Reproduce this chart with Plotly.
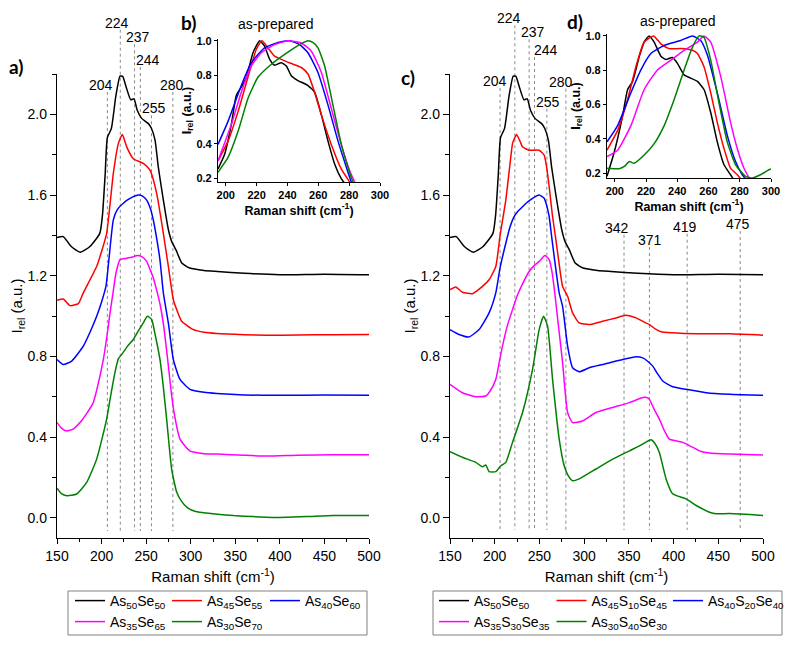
import plotly.graph_objects as go

# ---------------- data ----------------
names_left = ["As<sub>50</sub>Se<sub>50</sub>", "As<sub>45</sub>Se<sub>55</sub>", "As<sub>40</sub>Se<sub>60</sub>",
              "As<sub>35</sub>Se<sub>65</sub>", "As<sub>30</sub>Se<sub>70</sub>"]
names_right = ["As<sub>50</sub>Se<sub>50</sub>", "As<sub>45</sub>S<sub>10</sub>Se<sub>45</sub>",
               "As<sub>40</sub>S<sub>20</sub>Se<sub>40</sub>", "As<sub>35</sub>S<sub>30</sub>Se<sub>35</sub>",
               "As<sub>30</sub>S<sub>40</sub>Se<sub>30</sub>"]
colors = ["#000000", "#ff0000", "#0000ff", "#ff00ff", "#008000"]

# main spectra (offset stacked)
as50_x = [150, 157, 166, 176, 187, 198, 201, 204, 206.5, 211, 216, 220.7, 223.7, 227.4, 232.7, 236.4, 240, 245,
          252.5, 256, 260, 263.6, 269.3, 275, 278.7, 283.5, 290, 299, 315, 330, 360, 400, 450, 500]
as50_y = [1.39, 1.394, 1.345, 1.317, 1.345, 1.41, 1.50, 1.70, 1.885, 1.93, 2.09, 2.19, 2.188, 2.138, 2.072, 2.077,
          2.02, 1.98, 1.954, 1.93, 1.872, 1.74, 1.575, 1.427, 1.369, 1.328, 1.263, 1.238, 1.226, 1.221, 1.212,
          1.205, 1.208, 1.205]

as45_x = [150, 157, 164.6, 174, 179.5, 187, 194.5, 200, 205.7, 213.2, 218.8, 223.3, 228.2, 235.6, 246.8, 254.3,
          261.8, 269.3, 274.9, 280.5, 284.3, 289.9, 303, 315, 329, 360, 385, 420, 460, 500]
as45_y = [1.078, 1.085, 1.052, 1.062, 1.115, 1.18, 1.246, 1.32, 1.41, 1.707, 1.855, 1.90, 1.839, 1.78, 1.757, 1.723,
          1.608, 1.41, 1.246, 1.081, 1.032, 0.974, 0.933, 0.92, 0.914, 0.908, 0.905, 0.906, 0.908, 0.909]

as40_x = [150, 157, 166.5, 179.5, 188, 194.5, 200, 205, 208, 213.2, 218, 224.4, 230, 235.6, 241.2, 246, 250.6, 255,
          258, 262, 265.5, 269.3, 274.9, 280.5, 288, 299.2, 315, 329.2, 360, 400, 450, 500]
as40_y = [0.785, 0.76, 0.777, 0.851, 0.93, 0.999, 1.07, 1.15, 1.27, 1.477, 1.53, 1.559, 1.578, 1.592, 1.60, 1.595,
          1.575, 1.53, 1.477, 1.38, 1.279, 1.115, 0.966, 0.785, 0.686, 0.637, 0.622, 0.616, 0.609, 0.607, 0.609, 0.607]

as35_x = [150, 155, 160.9, 168, 175.8, 183, 190.7, 196, 202, 206, 209.5, 213, 216, 220.7, 228.2, 234, 240, 245,
          250.6, 254, 258, 262, 266, 270, 274, 278, 281, 288, 299, 315, 330, 360, 385, 420, 460, 500]
as35_y = [0.472, 0.445, 0.431, 0.44, 0.472, 0.515, 0.571, 0.66, 0.785, 0.90, 1.016, 1.12, 1.21, 1.28, 1.287, 1.292,
          1.30, 1.295, 1.271, 1.235, 1.19, 1.125, 1.05, 0.94, 0.79, 0.63, 0.53, 0.39, 0.332, 0.318, 0.316, 0.31,
          0.306, 0.31, 0.313, 0.313]

as30_x = [150, 155, 160.9, 172, 183.3, 194.5, 205.7, 210, 215, 219, 222.6, 229, 235.6, 241, 246.8, 251.3, 256.2,
          260, 265.5, 269, 273, 278.6, 284.3, 290, 295.5, 303, 310, 330, 348, 370, 385, 400, 430, 460, 500]
as30_y = [0.147, 0.12, 0.11, 0.118, 0.176, 0.291, 0.489, 0.60, 0.72, 0.79, 0.81, 0.85, 0.884, 0.925, 0.966, 0.999,
          0.983, 0.91, 0.785, 0.66, 0.489, 0.242, 0.127, 0.08, 0.053, 0.035, 0.028, 0.018, 0.011, 0.006, 0.003,
          0.002, 0.006, 0.011, 0.011]

s10_x = [150, 156.4, 163.9, 175.1, 186.3, 193.7, 201.2, 206, 212.4, 217, 219.9, 222, 224.4, 228, 231.1, 238.5,
         249.7, 255.3, 258, 260.9, 264.5, 268.4, 272, 275.9, 281.5, 287.1, 294.5, 305.7, 320.7, 335.6, 346.8, 358,
         365, 372.9, 380, 386, 399, 425.3, 462.6, 500]
s10_y = [1.131, 1.144, 1.118, 1.111, 1.147, 1.18, 1.246, 1.40, 1.575, 1.75, 1.855, 1.88, 1.90, 1.87, 1.839, 1.822,
         1.822, 1.798, 1.74, 1.641, 1.50, 1.378, 1.26, 1.147, 1.098, 1.016, 0.966, 0.958, 0.974, 0.991, 1.004,
         0.991, 0.975, 0.958, 0.935, 0.922, 0.917, 0.912, 0.912, 0.905]

s20_x = [150, 160.1, 171.3, 182.5, 193.7, 201.2, 206, 212.4, 217, 221.7, 226, 231.1, 236, 242.3, 249.7, 255.3, 258,
         260.9, 263.5, 266.5, 272.1, 275.9, 281.5, 287.1, 294.5, 305.7, 320.7, 343.2, 358, 365.5, 370, 376.7, 382,
         387.9, 399, 414, 436.5, 462.6, 500]
s20_y = [0.933, 0.909, 0.897, 0.933, 1.016, 1.115, 1.24, 1.361, 1.44, 1.493, 1.52, 1.542, 1.563, 1.584, 1.60, 1.584,
         1.55, 1.493, 1.40, 1.295, 1.115, 1.048, 0.851, 0.744, 0.724, 0.744, 0.76, 0.785, 0.798, 0.793, 0.78, 0.752,
         0.715, 0.678, 0.65, 0.637, 0.62, 0.612, 0.607]

s30_x = [150, 163.9, 178.8, 190, 195, 201.2, 205, 208.7, 214, 219.9, 225, 231.1, 238.5, 244, 249.7, 256.1, 261,
         264, 267, 270.3, 275.9, 281.5, 287.1, 298.3, 313.2, 331.9, 350.6, 365.5, 369, 372.9, 378, 384.1, 390,
         395.3, 410.3, 421.6, 430, 440.2, 462.6, 500]
s30_y = [0.662, 0.62, 0.60, 0.604, 0.63, 0.686, 0.77, 0.851, 0.95, 1.032, 1.10, 1.16, 1.221, 1.25, 1.271, 1.30,
         1.279, 1.22, 1.12, 0.99, 0.769, 0.522, 0.472, 0.48, 0.522, 0.547, 0.571, 0.596, 0.598, 0.588, 0.54,
         0.489, 0.43, 0.39, 0.374, 0.349, 0.33, 0.321, 0.316, 0.311]

s40_x = [150, 163.9, 178.8, 186.3, 190, 193.7, 201.2, 206.8, 212.4, 219.9, 231.1, 242.3, 249.7, 254.6, 259.1, 264.7,
         272.1, 277.7, 282, 287.1, 294.5, 313.2, 331.9, 350.6, 365.5, 370, 374.9, 379, 384.1, 391.6, 399, 414,
         425.3, 440.2, 447.7, 462.6, 500]
s40_y = [0.328, 0.30, 0.275, 0.253, 0.262, 0.229, 0.229, 0.258, 0.275, 0.374, 0.522, 0.736, 0.933, 0.999, 0.95,
         0.686, 0.39, 0.258, 0.21, 0.184, 0.193, 0.242, 0.291, 0.332, 0.365, 0.378, 0.387, 0.37, 0.324, 0.193,
         0.119, 0.094, 0.061, 0.028, 0.02, 0.021, 0.012]

# inset b (as-prepared, normalized)
b50_x = [195, 199.3, 203.6, 206.9, 210.1, 213.4, 217.7, 222, 225.2, 228.5, 231.7, 236, 239.3, 242.5, 246.8, 253.3,
         257.6, 262, 266.3, 270.6, 274.9, 277]
b50_y = [0.253, 0.339, 0.51, 0.682, 0.73, 0.787, 0.93, 1.0, 0.968, 0.891, 0.857, 0.872, 0.853, 0.796, 0.768, 0.739,
         0.70, 0.568, 0.415, 0.282, 0.196, 0.17]
b45_x = [195, 201.5, 208, 214.4, 219.8, 223.5, 227.4, 231.7, 236, 242.5, 249, 253.3, 257.6, 262, 268.4, 274.9,
         280.3, 281.5]
b45_y = [0.30, 0.415, 0.587, 0.787, 0.949, 1.0, 0.958, 0.91, 0.891, 0.867, 0.844, 0.806, 0.70, 0.568, 0.396, 0.253,
         0.177, 0.16]
b40_x = [195, 201.5, 210.1, 216.6, 225.2, 233.9, 241.4, 247.9, 253.3, 259.8, 266.3, 272.8, 278.2, 281.4, 282.5]
b40_y = [0.396, 0.53, 0.739, 0.872, 0.958, 0.99, 1.0, 0.977, 0.93, 0.815, 0.625, 0.415, 0.263, 0.177, 0.16]
b35_x = [195, 203.6, 210.1, 216.6, 223.1, 231.7, 240.4, 249, 255.5, 262, 268.4, 274.9, 280.3, 283.6, 284.5]
b35_y = [0.30, 0.51, 0.70, 0.853, 0.93, 0.977, 1.0, 0.987, 0.939, 0.815, 0.606, 0.396, 0.244, 0.177, 0.16]
b30_x = [195, 201.5, 208, 214.4, 220.9, 229.6, 238.2, 246.8, 250.5, 253.3, 256.5, 259.8, 264.1, 269.5, 274.9, 279.2,
         282.5, 283.5]
b30_y = [0.234, 0.32, 0.472, 0.663, 0.787, 0.863, 0.92, 0.971, 0.99, 1.0, 0.99, 0.958, 0.853, 0.625, 0.396, 0.263,
         0.177, 0.16]

# inset d (as-prepared, normalized)
d50_x = [195, 199.7, 205, 208.2, 211.4, 215.6, 218.8, 222, 225.2, 229.5, 232.7, 236.9, 240.1, 244.4, 248.6, 252.9,
         257.1, 261.4, 265.6, 269.9, 274.1, 276]
d50_y = [0.183, 0.326, 0.535, 0.688, 0.735, 0.878, 0.964, 1.0, 0.964, 0.882, 0.863, 0.874, 0.84, 0.773, 0.754,
         0.735, 0.688, 0.554, 0.383, 0.25, 0.192, 0.165]
d10_x = [195, 201.8, 208.2, 213.5, 218.8, 224.8, 229.5, 234.8, 242.2, 249.7, 252.9, 257.1, 261.4, 265.6, 269.9,
         274.1, 278.4, 281]
d10_y = [0.335, 0.45, 0.63, 0.821, 0.964, 1.0, 0.954, 0.926, 0.926, 0.916, 0.897, 0.821, 0.669, 0.497, 0.345, 0.23,
         0.192, 0.165]
d20_x = [195, 201.8, 210.3, 216.7, 223.1, 231.6, 242.2, 249.7, 255, 259.3, 265.6, 272, 277.3, 281.6, 284]
d20_y = [0.383, 0.478, 0.669, 0.802, 0.897, 0.945, 0.973, 1.0, 0.973, 0.888, 0.669, 0.421, 0.269, 0.192, 0.165]
d30_x = [195, 201.8, 210.3, 218.8, 227.3, 235.9, 244.4, 252.9, 257.1, 261.4, 267.8, 274.1, 278.4, 282.7, 286.5]
d30_y = [0.297, 0.335, 0.478, 0.688, 0.802, 0.859, 0.916, 0.964, 1.0, 0.964, 0.764, 0.497, 0.345, 0.23, 0.165]
d40_x = [195, 202.9, 206.1, 209.3, 212.4, 218.8, 225.2, 231.6, 238, 244.4, 249.7, 254, 257.1, 261.4, 266.7, 272,
         277.3, 283.7, 287.9, 293.3, 298.6, 300]
d40_y = [0.23, 0.227, 0.24, 0.269, 0.259, 0.307, 0.373, 0.478, 0.63, 0.802, 0.935, 1.0, 0.992, 0.859, 0.611, 0.383,
         0.25, 0.183, 0.173, 0.192, 0.221, 0.226]

# peak marks
peaks_left_x = [206.5, 221, 237, 243.5, 256, 280]
peaks_left_lbl = ["204", "224", "237", "244", "255", "280"]
peaks_right_x = [206, 222.5, 238.5, 244.5, 258.3, 279.6, 344.6, 373, 415.2, 474.5]
peaks_right_lbl = ["204", "224", "237", "244", "255", "280", "342", "371", "419", "475"]

# ---------------- layout helpers ----------------
W, H = 792, 646
def px(x): return x / W
def py(y): return 1 - y / H

FONT = "Liberation Sans, Arial, sans-serif"
fig = go.Figure()

left_sets = [(as50_x, as50_y), (as45_x, as45_y), (as40_x, as40_y), (as35_x, as35_y), (as30_x, as30_y)]
right_sets = [(as50_x, as50_y), (s10_x, s10_y), (s20_x, s20_y), (s30_x, s30_y), (s40_x, s40_y)]
b_sets = [(b50_x, b50_y), (b45_x, b45_y), (b40_x, b40_y), (b35_x, b35_y), (b30_x, b30_y)]
d_sets = [(d50_x, d50_y), (d10_x, d10_y), (d20_x, d20_y), (d30_x, d30_y), (d40_x, d40_y)]

# legend placement (each entry its own legend): line-start px and row px
left_cols = [75, 172, 270]
right_cols = [439, 556.5, 673]
rows = [601, 622]

legend_defs = {}
n = 0
for panel, (sets, names, cols, xa, ya) in enumerate([(left_sets, names_left, left_cols, "x", "y"),
                                                      (right_sets, names_right, right_cols, "x2", "y2")]):
    for i, ((xs, ys), nm) in enumerate(zip(sets, names)):
        n += 1
        lname = "legend" if n == 1 else f"legend{n}"
        c = cols[i % 3]
        r = rows[i // 3]
        legend_defs[lname] = dict(x=px(c - 5), y=py(r), xanchor="left", yanchor="middle",
                                  bgcolor="rgba(0,0,0,0)", borderwidth=0,
                                  font=dict(family=FONT, size=14, color="#000"))
        fig.add_trace(go.Scatter(x=xs, y=ys, mode="lines", name=nm, xaxis=xa, yaxis=ya,
                                 line=dict(color=colors[i], width=1.5, shape="spline", smoothing=0.5),
                                 legend=lname, showlegend=True))

for sets, xa, ya in [(b_sets, "x3", "y3"), (d_sets, "x4", "y4")]:
    for i, (xs, ys) in enumerate(sets):
        fig.add_trace(go.Scatter(x=xs, y=ys, mode="lines", xaxis=xa, yaxis=ya, showlegend=False,
                                 line=dict(color=colors[i], width=1.5, shape="spline", smoothing=0.5)))

tickfont = dict(family=FONT, size=14, color="#000")
main_x = dict(range=[150, 500], tick0=150, dtick=50, showline=True, linecolor="#000", linewidth=1.3,
              ticks="outside", ticklen=5, tickwidth=1.2, tickcolor="#000", showgrid=False, zeroline=False,
              tickfont=tickfont, minor=dict(dtick=25, ticks="outside", ticklen=3, tickcolor="#000"),
              title=dict(text="Raman shift (cm<sup>-1</sup>)", font=dict(family=FONT, size=15, color="#000"),
                         standoff=8))
main_y = dict(range=[-0.1, 2.2], tick0=0, dtick=0.4, tickformat=".1f", showline=True, linecolor="#000",
              linewidth=1.3, ticks="outside", ticklen=6, tickwidth=1.2, tickcolor="#000", showgrid=False,
              zeroline=False, tickfont=tickfont,
              minor=dict(dtick=0.2, ticks="outside", ticklen=4, tickcolor="#000"),
              title=dict(text="I<sub>rel</sub> (a.u.)", font=dict(family=FONT, size=15, color="#000"), standoff=1),
              domain=[py(538), py(74)])

inset_tick = dict(family=FONT, size=11, color="#000", weight="bold")
inset_title = dict(family=FONT, size=12.5, color="#000", weight="bold")
inset_x = dict(range=[195, 300], tick0=200, dtick=20, showline=True, linecolor="#000", linewidth=1.2,
               ticks="outside", ticklen=3, tickcolor="#000", showgrid=False, zeroline=False, tickfont=inset_tick,
               title=dict(text="Raman shift (cm<sup>-1</sup>)", font=inset_title, standoff=3))
inset_y = dict(tick0=0.2, dtick=0.2, tickformat=".1f", showline=True, linecolor="#000", linewidth=1.2,
               ticks="outside", ticklen=3, tickcolor="#000", showgrid=False, zeroline=False, tickfont=inset_tick,
               title=dict(text="I<sub>rel</sub> (a.u.)", font=inset_title, standoff=2))

fig.update_layout(
    width=W, height=H, margin=dict(l=0, r=0, t=0, b=0, autoexpand=False),
    paper_bgcolor="white", plot_bgcolor="rgba(0,0,0,0)",
    font=dict(family=FONT, color="#000"),
    xaxis=dict(main_x, domain=[px(57), px(369)], anchor="y"),
    yaxis=dict(main_y, anchor="x"),
    xaxis2=dict(main_x, domain=[px(450), px(763)], anchor="y2"),
    yaxis2=dict(main_y, anchor="x2"),
    xaxis3=dict(inset_x, domain=[px(218), px(380)], anchor="y3"),
    yaxis3=dict(inset_y, range=[0.177, 1.01], domain=[py(182), py(39)], anchor="x3"),
    xaxis4=dict(inset_x, domain=[px(607), px(771)], anchor="y4"),
    yaxis4=dict(inset_y, range=[0.173, 1.011], domain=[py(178), py(34)], anchor="x4"),
    **legend_defs,
)

# dotted peak lines + labels
shapes = []
annotations = []
left_lbl_y = [85, 22.7, 37.3, 60, 108.3, 85]
left_shift = [-6, -3.6, 3.3, 7.7, 2.3, -1]
right_lbl_y = [81, 18.3, 32.3, 50, 101.7, 81.7, 227.7, 240, 226.7, 224]
right_shift = [-5, -5.5, 4, 11, 0.7, -4.5, -6.7, 1, -2, -2]
for xs, lbls, ly, sh, xref, ybot in [(peaks_left_x, peaks_left_lbl, left_lbl_y, left_shift, "x", 531),
                                     (peaks_right_x, peaks_right_lbl, right_lbl_y, right_shift, "x2", 530)]:
    for xv, lb, yv, s in zip(xs, lbls, ly, sh):
        shapes.append(dict(type="line", xref=xref, yref="paper", x0=xv, x1=xv, y0=py(yv + 7), y1=py(ybot),
                           line=dict(color="#8a8a8a", width=1, dash="dot"), layer="below"))
        annotations.append(dict(text=lb, xref=xref, yref="paper", x=xv, y=py(yv), xshift=s, showarrow=False,
                                xanchor="center", yanchor="middle", font=dict(family=FONT, size=14, color="#000")))

# legend boxes
for x0, x1 in [(68, 367), (433, 782)]:
    shapes.append(dict(type="rect", xref="paper", yref="paper", x0=px(x0), x1=px(x1), y0=py(635), y1=py(591),
                       line=dict(color="#808080", width=1), fillcolor="rgba(0,0,0,0)"))

# panel labels and titles
panel_font = dict(family="Lato, Open Sans, sans-serif", size=19, color="#000", weight="bold")
for t, x, y in [("a)", 16, 67), ("c)", 408, 77), ("b)", 188, 23), ("d)", 575, 22)]:
    annotations.append(dict(text=t, xref="paper", yref="paper", x=px(x), y=py(y), showarrow=False,
                            xanchor="center", yanchor="middle", font=panel_font))
for x, y in [(275.5, 24), (678, 21)]:
    annotations.append(dict(text="as-prepared", xref="paper", yref="paper", x=px(x), y=py(y), showarrow=False,
                            xanchor="center", yanchor="middle", font=dict(family=FONT, size=14, color="#000")))

fig.update_layout(shapes=shapes, annotations=annotations)
fig.write_html("out.html", config={"displayModeBar": False},
               post_script="document.body.style.margin='0';")
